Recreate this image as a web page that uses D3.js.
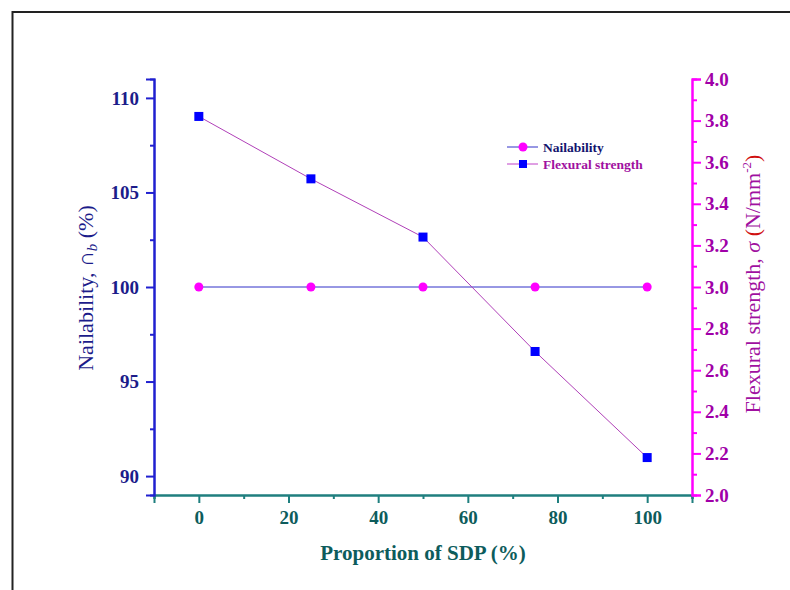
<!DOCTYPE html>
<html>
<head>
<meta charset="utf-8">
<script src="https://cdn.jsdelivr.net/npm/d3@7"></script>
<style>
  body { margin: 0; background: #fff; }
  svg { font-family: "Liberation Serif", "Times New Roman", serif; }
</style>
</head>
<body>
<div id="chart"></div>
<script>
// data
const sdp = [0, 25, 50, 75, 100];
const nailability = [100, 100, 100, 100, 100];
const flexural = [3.82, 3.52, 3.24, 2.69, 2.18];

const xTicks = [0, 20, 40, 60, 80, 100];
const xMinor = [-10, 10, 30, 50, 70, 90, 110];
const leftTicks = [90, 95, 100, 105, 110];
const leftMinor = [92.5, 97.5, 102.5, 107.5];
const rightTicks = [2.0, 2.2, 2.4, 2.6, 2.8, 3.0, 3.2, 3.4, 3.6, 3.8, 4.0];
const rightMinor = [2.1, 2.3, 2.5, 2.7, 2.9, 3.1, 3.3, 3.5, 3.7, 3.9];

const width = 790;
const height = 590;
const plot = { left: 154, right: 692, top: 79, bottom: 495 };

const svg = d3
  .select("#chart")
  .append("svg")
  .attr("width", width)
  .attr("height", height);

// outer frame
svg
  .append("path")
  .attr("d", `M${width + 5},12 H12.5 V${height + 5}`)
  .attr("fill", "none")
  .attr("stroke", "#222")
  .attr("stroke-width", 2);

const x = d3.scaleLinear().domain([-10, 110]).range([plot.left, plot.right]);
const yLeft = d3.scaleLinear().domain([89, 111]).range([plot.bottom, plot.top]);
const yRight = d3.scaleLinear().domain([2, 4]).range([plot.bottom, plot.top]);

const styleAxis = (g, lineColor, textColor, size) => {
  g.select(".domain").attr("stroke", lineColor).attr("stroke-width", 2);
  g.selectAll(".tick line").attr("stroke", lineColor).attr("stroke-width", 2);
  g.selectAll(".tick text")
    .attr("fill", textColor)
    .attr("font-size", size)
    .attr("font-weight", "bold")
    .attr("font-family", "Liberation Serif, serif");
};

// x axis
const xColor = "#1f7f7f";
const xText = "#0d5c5c";
svg
  .append("g")
  .attr("transform", `translate(0,${plot.bottom})`)
  .call(d3.axisBottom(x).tickValues(xMinor).tickSize(4).tickFormat(""))
  .call((g) => styleAxis(g, xColor, xText, 19));
svg
  .append("g")
  .attr("transform", `translate(0,${plot.bottom})`)
  .call(d3.axisBottom(x).tickValues(xTicks).tickSize(8).tickPadding(8).tickFormat(d3.format("d")))
  .call((g) => styleAxis(g, xColor, xText, 19));

// left axis
const leftColor = "#2020d0";
const leftText = "#1c1c8a";
svg
  .append("g")
  .attr("transform", `translate(${plot.left},0)`)
  .call(d3.axisLeft(yLeft).tickValues(leftMinor).tickSize(4).tickFormat(""))
  .call((g) => styleAxis(g, leftColor, leftText, 19));
svg
  .append("g")
  .attr("transform", `translate(${plot.left},0)`)
  .call(d3.axisLeft(yLeft).tickValues(leftTicks).tickSize(8).tickPadding(7).tickFormat(d3.format("d")))
  .call((g) => styleAxis(g, leftColor, leftText, 19));

// right axis
const rightColor = "#ff00ff";
const rightText = "#a000a8";
svg
  .append("g")
  .attr("transform", `translate(${plot.right},0)`)
  .call(d3.axisRight(yRight).tickValues(rightMinor).tickSize(5).tickFormat(""))
  .call((g) => styleAxis(g, rightColor, rightText, 19));
svg
  .append("g")
  .attr("transform", `translate(${plot.right},0)`)
  .call(d3.axisRight(yRight).tickValues(rightTicks).tickSize(9).tickPadding(4).tickFormat(d3.format(".1f")))
  .call((g) => styleAxis(g, rightColor, rightText, 19));

// axis titles
svg
  .append("text")
  .attr("x", 423)
  .attr("y", 560)
  .attr("text-anchor", "middle")
  .attr("fill", xText)
  .attr("font-size", 21)
  .attr("font-weight", "bold")
  .text("Proportion of SDP (%)");

const leftTitle = svg
  .append("text")
  .attr("transform", "translate(93,288) rotate(-90)")
  .attr("text-anchor", "middle")
  .attr("fill", leftText)
  .attr("font-size", 22);
leftTitle.append("tspan").text("Nailability, \u2229");
leftTitle.append("tspan").attr("font-style", "italic").attr("font-size", 15).attr("dy", 4).text("b");
leftTitle.append("tspan").attr("dy", -4).text(" (%)");

const rightTitle = svg
  .append("text")
  .attr("transform", "translate(760,284) rotate(-90)")
  .attr("text-anchor", "middle")
  .attr("fill", "#a010a0")
  .attr("font-size", 22);
rightTitle.append("tspan").text("Flexural strength, ");
rightTitle.append("tspan").attr("font-style", "italic").text("\u03c3 ");
rightTitle.append("tspan").attr("fill", "#d01010").text("(");
rightTitle.append("tspan").text("N/mm");
rightTitle.append("tspan").attr("font-size", 13).attr("dy", -9).text("-2");
rightTitle.append("tspan").attr("dy", 9).attr("fill", "#d01010").text(")");

// series lines
const nailLine = d3
  .line()
  .x((d, i) => x(sdp[i]))
  .y((d) => yLeft(d));
const flexLine = d3
  .line()
  .x((d, i) => x(sdp[i]))
  .y((d) => yRight(d));

svg
  .append("path")
  .datum(nailability)
  .attr("d", nailLine)
  .attr("fill", "none")
  .attr("stroke", "#3030c8")
  .attr("stroke-width", 1);

svg
  .append("path")
  .datum(flexural)
  .attr("d", flexLine)
  .attr("fill", "none")
  .attr("stroke", "#b040b8")
  .attr("stroke-width", 1);

svg
  .selectAll(".nail-pt")
  .data(nailability)
  .enter()
  .append("circle")
  .attr("class", "nail-pt")
  .attr("cx", (d, i) => x(sdp[i]))
  .attr("cy", (d) => yLeft(d))
  .attr("r", 4.5)
  .attr("fill", "#ff00ff");

svg
  .selectAll(".flex-pt")
  .data(flexural)
  .enter()
  .append("rect")
  .attr("class", "flex-pt")
  .attr("x", (d, i) => x(sdp[i]) - 4.5)
  .attr("y", (d) => yRight(d) - 4.5)
  .attr("width", 9)
  .attr("height", 9)
  .attr("fill", "#0000ff");

// legend
const legend = svg.append("g").attr("transform", "translate(507,147)");
const legendItems = [
  { name: "Nailability", line: "#3030c8", text: "#14146e", shape: "circle" },
  { name: "Flexural strength", line: "#c040c8", text: "#a010a0", shape: "square" },
];
legendItems.forEach((item, i) => {
  const row = legend.append("g").attr("transform", `translate(0,${i * 17})`);
  row
    .append("line")
    .attr("x1", 0)
    .attr("x2", 31)
    .attr("stroke", item.line)
    .attr("stroke-width", 1);
  if (item.shape === "circle") {
    row.append("circle").attr("cx", 16).attr("r", 4.5).attr("fill", "#ff00ff");
  } else {
    row.append("rect").attr("x", 12).attr("y", -4).attr("width", 8).attr("height", 8).attr("fill", "#0000ff");
  }
  row
    .append("text")
    .attr("x", 36)
    .attr("dy", "0.35em")
    .attr("fill", item.text)
    .attr("font-size", 13.5)
    .attr("font-weight", "bold")
    .text(item.name);
});
</script>
</body>
</html>
